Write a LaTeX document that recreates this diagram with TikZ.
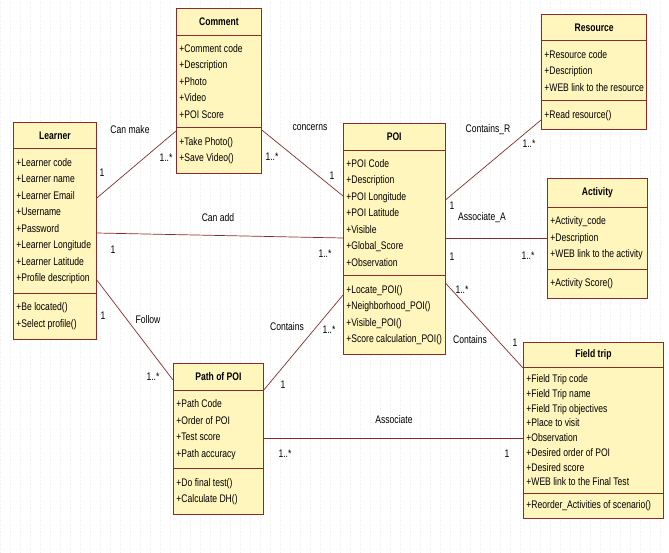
\documentclass[tikz,border=0pt]{standalone}
\usepackage{fontspec}
\setmainfont{Liberation Sans}[FakeStretch=0.78]
\usetikzlibrary{shapes.multipart,calc}
\definecolor{umlfill}{HTML}{FFF6BE}
\definecolor{umlline}{HTML}{8C2A2A}

\begin{document}
\begin{tikzpicture}[
    x=1pt, y=-1pt,
    umlclass/.style={rectangle split, rectangle split parts=3, rectangle split part align={center,left,left}, draw=umlline, fill=umlfill, line width=0.8pt, anchor=north west, minimum width=#1, align=left, inner xsep=3pt, inner ysep=9pt, font=\fontsize{11}{16.5}\selectfont},
    assoc/.style={draw=umlline, line width=0.7pt},
    lbl/.style={font=\fontsize{11}{12}\selectfont, inner sep=1pt}
]
    \useasboundingbox (0,0) rectangle (669,552);
    \draw[black!7, dotted, step=10] (0,0) grid (669,552);

    % Classes
    \node[umlclass=83pt] (learner) at (13,122) {\textbf{Learner}
        \nodepart{two}+Learner code\\+Learner name\\+Learner Email\\+Username\\+Password\\+Learner Longitude\\+Learner Latitude\\+Profile description
        \nodepart{three}+Be located()\\+Select profile()};
    \node[umlclass=85pt] (comment) at (176,8) {\textbf{Comment}
        \nodepart{two}+Comment code\\+Description\\+Photo\\+Video\\+POI Score
        \nodepart{three}+Take Photo()\\+Save Video()};
    \node[umlclass=101pt] (poi) at (343,123) {\textbf{POI}
        \nodepart{two}+POI Code\\+Description\\+POI Longitude\\+POI Latitude\\+Visible\\+Global\_Score\\+Observation
        \nodepart{three}+Locate\_POI()\\+Neighborhood\_POI()\\+Visible\_POI()\\+Score calculation\_POI()};
    \node[umlclass=105pt] (resource) at (541,14) {\textbf{Resource}
        \nodepart{two}+Resource code\\+Description\\+WEB link to the resource
        \nodepart{three}+Read resource()};
    \node[umlclass=100pt] (activity) at (547,178) {\textbf{Activity}
        \nodepart{two}+Activity\_code\\+Description\\+WEB link to the activity
        \nodepart{three}+Activity Score()};
    \node[umlclass=90pt] (path) at (173,363) {\textbf{Path of POI}
        \nodepart{two}+Path Code\\+Order of POI\\+Test score\\+Path accuracy
        \nodepart{three}+Do final test()\\+Calculate DH()};
    \node[umlclass=140pt, inner ysep=7pt, font=\fontsize{11}{14.7}\selectfont] (fieldtrip) at (523,342) {\textbf{Field trip}
        \nodepart{two}+Field Trip code\\+Field Trip name\\+Field Trip objectives\\+Place to visit\\+Observation\\+Desired order of POI\\+Desired score\\+WEB link to the Final Test
        \nodepart{three}+Reorder\_Activities of scenario()};

    % Associations
    \draw[assoc] ($(learner.north east)+(0,76)$) -- ($(comment.north west)+(0,123)$);
    \draw[assoc] ($(comment.north east)+(0,122)$) -- ($(poi.north west)+(0,73)$);
    \draw[assoc] ($(learner.north east)+(0,111)$) -- ($(poi.north west)+(0,115)$);
    \draw[assoc] ($(learner.north east)+(0,158)$) -- ($(path.north west)+(0,17)$);
    \draw[assoc] ($(path.north east)+(0,27)$) -- ($(poi.north west)+(0,172)$);
    \draw[assoc] ($(poi.north east)+(0,77)$) -- ($(resource.north west)+(0,106)$);
    \draw[assoc] ($(poi.north east)+(0,115)$) -- ($(activity.north west)+(0,60)$);
    \draw[assoc] ($(poi.north east)+(0,160)$) -- ($(fieldtrip.north west)+(0,26)$);
    \draw[assoc] ($(path.north east)+(0,75)$) -- ($(fieldtrip.north west)+(0,96)$);

    % Labels
    \node[lbl] (canmake) at (130,130) {Can make};
    \node[lbl] (canmake1) at (102,173) {1};
    \node[lbl] (canmake2) at (166,158) {1..*};
    \node[lbl] (concerns) at (310,128) {concerns};
    \node[lbl] (concerns1) at (272,157) {1..*};
    \node[lbl] (concerns2) at (332,176) {1};
    \node[lbl] (canadd) at (218,218) {Can add};
    \node[lbl] (canadd1) at (113,250) {1};
    \node[lbl] (canadd2) at (325,254) {1..*};
    \node[lbl] (follow) at (148,320) {Follow};
    \node[lbl] (follow1) at (103,316) {1};
    \node[lbl] (follow2) at (153,377) {1..*};
    \node[lbl] (contains) at (287,327) {Contains};
    \node[lbl] (contains1) at (283,385) {1};
    \node[lbl] (contains2) at (329,330) {1..*};
    \node[lbl] (containsr) at (488,130) {Contains\_R};
    \node[lbl] (containsr1) at (452,206) {1};
    \node[lbl] (containsr2) at (529,144) {1..*};
    \node[lbl] (associatea) at (482,218) {Associate\_A};
    \node[lbl] (associatea1) at (452,257) {1};
    \node[lbl] (associatea2) at (528,256) {1..*};
    \node[lbl] (containsf) at (470,340) {Contains};
    \node[lbl] (containsf1) at (462,290) {1..*};
    \node[lbl] (containsf2) at (515,343) {1};
    \node[lbl] (associate) at (394,420) {Associate};
    \node[lbl] (associate1) at (285,454) {1..*};
    \node[lbl] (associate2) at (507,454) {1};
\end{tikzpicture}
\end{document}
